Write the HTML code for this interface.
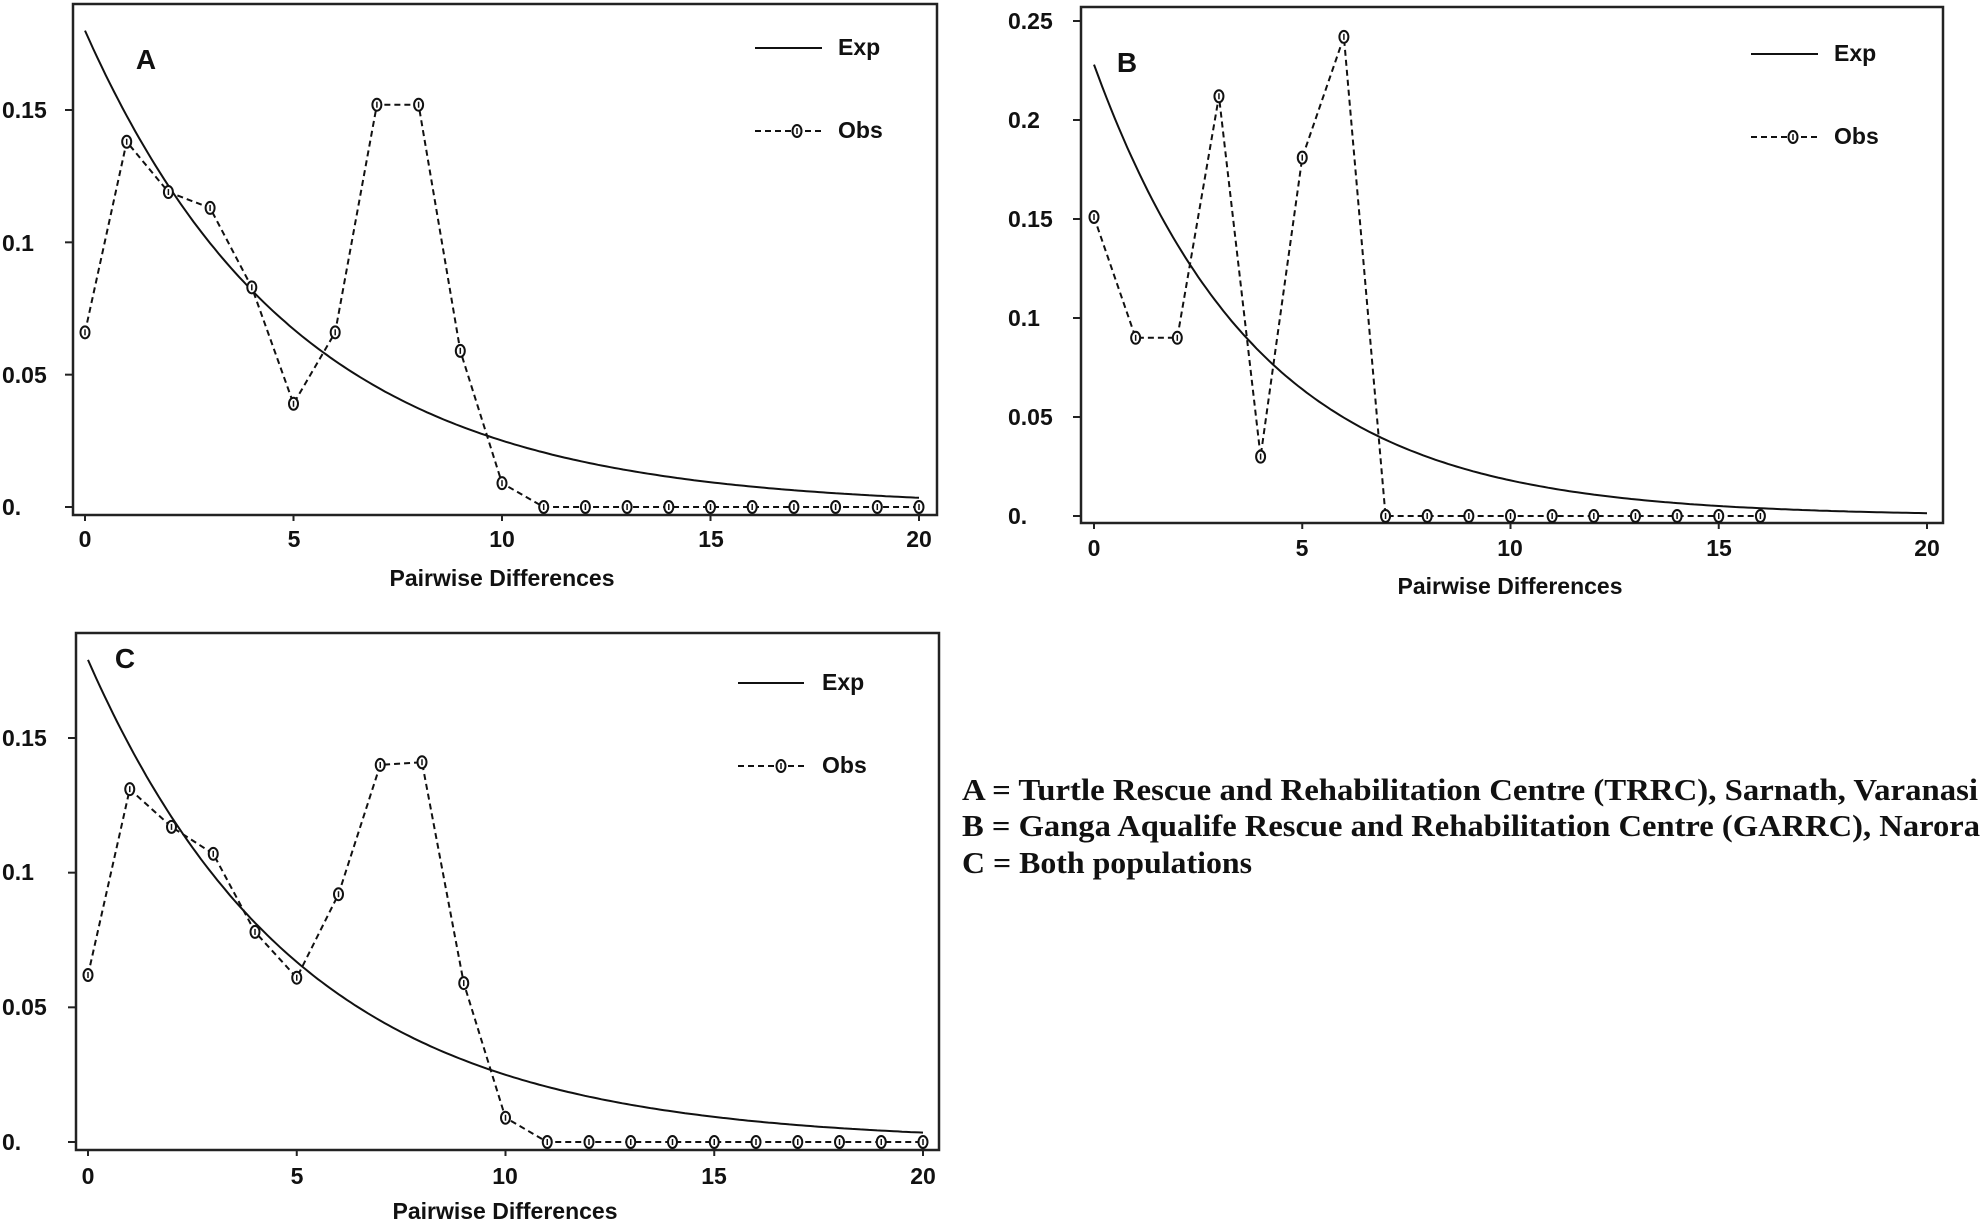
<!DOCTYPE html>
<html><head><meta charset="utf-8"><style>
html,body{margin:0;padding:0;background:#fff}
svg{display:block}
.t{font-family:"Liberation Sans",sans-serif;font-weight:bold;font-size:23px;fill:#111}
.s{font-family:"Liberation Serif",serif;font-weight:bold;font-size:31px;fill:#111}
</style></head><body>
<svg id="g" width="1983" height="1220" viewBox="0 0 1983 1220" xmlns="http://www.w3.org/2000/svg">
<g id="plots"></g>
<!-- Panel A text -->
<g class="t">
<text x="146" y="69" text-anchor="middle" font-size="28">A</text>
<text x="838" y="55">Exp</text><text x="838" y="138">Obs</text>
<text x="2" y="118">0.15</text><text x="2" y="251">0.1</text><text x="2" y="383">0.05</text><text x="2" y="515">0.</text>
<text x="85" y="547" text-anchor="middle">0</text><text x="294" y="547" text-anchor="middle">5</text><text x="502" y="547" text-anchor="middle">10</text><text x="711" y="547" text-anchor="middle">15</text><text x="919" y="547" text-anchor="middle">20</text>
<text x="502" y="586" text-anchor="middle">Pairwise Differences</text>
</g>
<!-- Panel B text -->
<g class="t">
<text x="1127" y="72" text-anchor="middle" font-size="28">B</text>
<text x="1834" y="61">Exp</text><text x="1834" y="144">Obs</text>
<text x="1008" y="29">0.25</text><text x="1008" y="128">0.2</text><text x="1008" y="227">0.15</text><text x="1008" y="326">0.1</text><text x="1008" y="425">0.05</text><text x="1008" y="524">0.</text>
<text x="1094" y="556" text-anchor="middle">0</text><text x="1302" y="556" text-anchor="middle">5</text><text x="1510" y="556" text-anchor="middle">10</text><text x="1719" y="556" text-anchor="middle">15</text><text x="1927" y="556" text-anchor="middle">20</text>
<text x="1510" y="594" text-anchor="middle">Pairwise Differences</text>
</g>
<!-- Panel C text -->
<g class="t">
<text x="125" y="668" text-anchor="middle" font-size="28">C</text>
<text x="822" y="690">Exp</text><text x="822" y="773">Obs</text>
<text x="2" y="746">0.15</text><text x="2" y="880">0.1</text><text x="2" y="1015">0.05</text><text x="2" y="1150">0.</text>
<text x="88" y="1184" text-anchor="middle">0</text><text x="297" y="1184" text-anchor="middle">5</text><text x="505" y="1184" text-anchor="middle">10</text><text x="714" y="1184" text-anchor="middle">15</text><text x="923" y="1184" text-anchor="middle">20</text>
<text x="505" y="1219" text-anchor="middle">Pairwise Differences</text>
</g>
<g class="s">
<text x="962" y="800" textLength="1016" lengthAdjust="spacingAndGlyphs">A = Turtle Rescue and Rehabilitation Centre (TRRC), Sarnath, Varanasi</text>
<text x="962" y="836" textLength="1018" lengthAdjust="spacingAndGlyphs">B = Ganga Aqualife Rescue and Rehabilitation Centre (GARRC), Narora</text>
<text x="962" y="873" textLength="290" lengthAdjust="spacingAndGlyphs">C = Both populations</text>
</g>
</svg>
<script>
const NS="http://www.w3.org/2000/svg",G=document.getElementById("plots");
function el(n,a){const e=document.createElementNS(NS,n);for(const k in a)e.setAttribute(k,a[k]);G.appendChild(e);return e;}
function mark(x,y){el("ellipse",{cx:x,cy:y,rx:4.5,ry:6,fill:"#fff",stroke:"#111","stroke-width":2});el("line",{x1:x,y1:y-3,x2:x,y2:y+3,stroke:"#111","stroke-width":1.5});}
function panel(p){
 const X=v=>p.x0+(p.x20-p.x0)*v/20,Y=v=>p.y0-(p.y0-p.yr)*v/p.vr;
 el("rect",{x:p.l,y:p.t,width:p.r-p.l,height:p.b-p.t,fill:"none",stroke:"#222","stroke-width":2.5});
 for(let v=0;v<=20;v+=5)el("line",{x1:X(v),y1:p.b,x2:X(v),y2:p.b+6,stroke:"#222","stroke-width":2});
 p.yt.forEach(v=>el("line",{x1:p.l-8,y1:Y(v),x2:p.l,y2:Y(v),stroke:"#222","stroke-width":2}));
 let d="";for(let i=0;i<=200;i++){const x=i/10;d+=(i?"L":"M")+X(x).toFixed(1)+" "+Y(p.a*Math.exp(-p.k*x)).toFixed(1);}
 el("path",{d:d,fill:"none",stroke:"#111","stroke-width":2});
 d="";p.obs.forEach((v,i)=>{d+=(i?"L":"M")+X(i)+" "+Y(v);});
 el("path",{d:d,fill:"none",stroke:"#111","stroke-width":2,"stroke-dasharray":"6,4"});
 p.obs.forEach((v,i)=>mark(X(i),Y(v)));
 el("line",{x1:p.lg[0],y1:p.lg[2],x2:p.lg[1],y2:p.lg[2],stroke:"#111","stroke-width":2});
 el("line",{x1:p.lg[0],y1:p.lg[3],x2:p.lg[1],y2:p.lg[3],stroke:"#111","stroke-width":2,"stroke-dasharray":"6,4"});
 mark(p.lg[4],p.lg[3]);
}
const z=n=>Array(n).fill(0);
panel({l:73,r:937,t:4,b:515,x0:85,x20:919,y0:507,yr:110,vr:0.15,yt:[0,0.05,0.1,0.15],a:0.18,k:0.197,
 obs:[0.066,0.138,0.119,0.113,0.083,0.039,0.066,0.152,0.152,0.059,0.009].concat(z(10)),lg:[755,822,48,131,797]});
panel({l:1081,r:1943,t:7,b:523,x0:1094,x20:1927,y0:516,yr:21,vr:0.25,yt:[0,0.05,0.1,0.15,0.2,0.25],a:0.228,k:0.254,
 obs:[0.151,0.09,0.09,0.212,0.03,0.181,0.242].concat(z(10)),lg:[1751,1818,54,137,1793]});
panel({l:76,r:939,t:633,b:1150,x0:88,x20:923,y0:1142,yr:738,vr:0.15,yt:[0,0.05,0.1,0.15],a:0.179,k:0.197,
 obs:[0.062,0.131,0.117,0.107,0.078,0.061,0.092,0.140,0.141,0.059,0.009].concat(z(10)),lg:[738,804,683,766,781]});
</script>
</body></html>
